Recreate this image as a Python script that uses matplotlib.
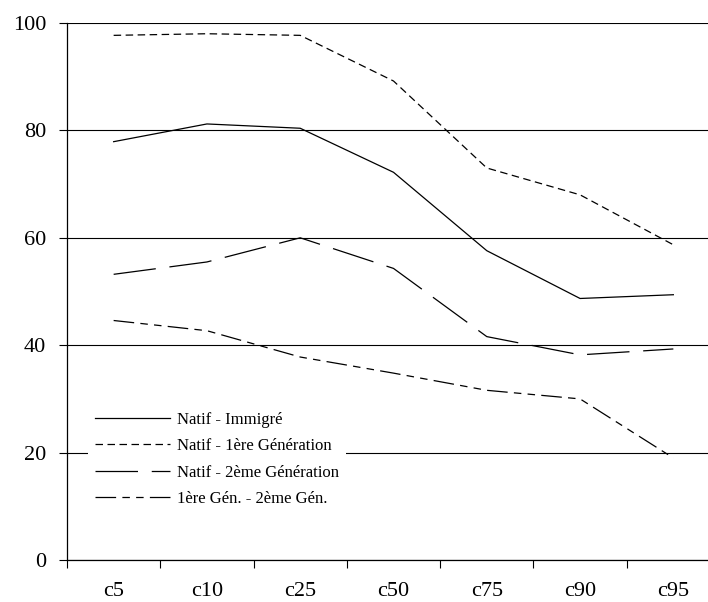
import matplotlib
matplotlib.use("Agg")
import matplotlib.pyplot as plt

# percentiles on the x axis
categories = ["c5", "c10", "c25", "c50", "c75", "c90", "c95"]

natif_immigre = [77.9, 81.2, 80.4, 72.2, 57.6, 48.7, 49.4]
natif_1ere = [97.7, 98.0, 97.7, 89.2, 73.0, 68.0, 58.7]
natif_2eme = [53.2, 55.5, 60.0, 54.3, 41.6, 38.2, 39.3]
gen1_gen2 = [44.6, 42.7, 37.8, 34.8, 31.6, 30.0, 19.0]

labels = ["Natif - Immigré", "Natif - 1ère Génération",
          "Natif - 2ème Génération", "1ère Gén. - 2ème Gén."]

plt.rcParams['font.family'] = ['Liberation Serif', 'DejaVu Serif']

fig = plt.figure(figsize=(7.08, 6.02), dpi=100)
ax = fig.add_axes([67 / 708, 1 - 560 / 602, 653 / 708, 537 / 602])

x = list(range(len(categories)))
series = [natif_immigre, natif_1ere, natif_2eme, gen1_gen2]
dash_styles = [None, (6, 3.6), (34, 11), (16.5, 5, 6, 5, 6, 5)]

for values, label, dashes in zip(series, labels, dash_styles):
    line, = ax.plot(x, values, color="black", lw=0.9, label=label)
    if dashes is not None:
        line.set_dashes(dashes)

ax.set_xlim(-0.5, 6.5)
ax.set_ylim(0, 100)
ax.set_yticks([0, 20, 40, 60, 80, 100])
ax.yaxis.grid(True, color="black", lw=0.8)
ax.set_axisbelow(True)

# ticks sit between categories, labels in the middle
ax.set_xticks([i - 0.5 for i in range(len(categories) + 1)])
ax.set_xticklabels([])
ax.set_xticks(x, minor=True)
ax.set_xticklabels(categories, minor=True)
ax.tick_params(axis="x", which="major", direction="out", length=6, width=0.8)
ax.tick_params(axis="x", which="minor", length=0, pad=16, labelsize=16)
ax.tick_params(axis="y", direction="out", length=6, width=0.8, pad=9, labelsize=16)

for side in ("top", "right"):
    ax.spines[side].set_visible(False)
for side in ("left", "bottom"):
    ax.spines[side].set_linewidth(0.9)

leg = ax.legend(loc="upper left", bbox_to_anchor=(88 / 708, 1 - 405 / 602),
                bbox_transform=fig.transFigure, prop={"size": 12},
                handlelength=4.5, handletextpad=0.45, labelspacing=0.63,
                borderpad=0.4, borderaxespad=0, frameon=True, fancybox=False)
leg.get_frame().set_facecolor("white")
leg.get_frame().set_edgecolor("none")
leg.get_frame().set_alpha(1)

fig.savefig("out.png", dpi=100)
